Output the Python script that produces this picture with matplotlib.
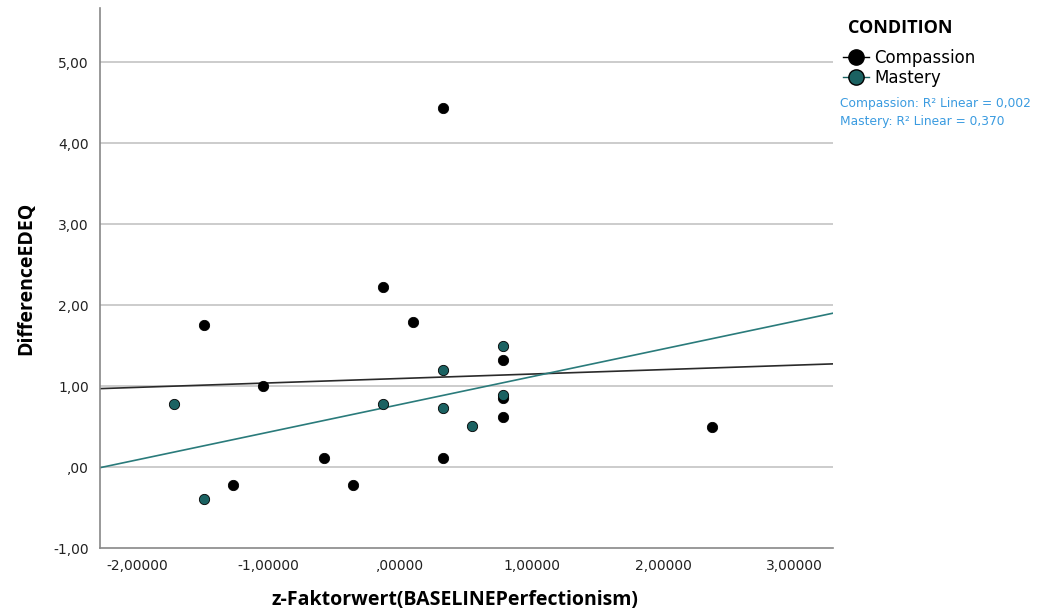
import numpy as np
import matplotlib.pyplot as plt
from matplotlib.lines import Line2D
from matplotlib.ticker import FuncFormatter

# donnees
comp_x = [-1.49, -1.27, -1.04, -0.58, -0.36, -0.13, 0.10, 0.33, 0.33, 0.78, 0.78, 0.78, 2.37]
comp_y = [1.75, -0.22, 1.00, 0.11, -0.22, 2.22, 1.79, 4.43, 0.11, 1.32, 0.85, 0.62, 0.49]
mast_x = [-1.72, -1.49, -0.13, 0.33, 0.33, 0.55, 0.78, 0.78]
mast_y = [0.78, -0.40, 0.78, 1.20, 0.73, 0.51, 1.50, 0.89]
groupes = ["Compassion", "Mastery"]
r2_textes = ["Compassion: R\u00b2 Linear = 0,002", "Mastery: R\u00b2 Linear = 0,370"]

noir = "#000000"
sarcelle = "#1b6262"
xmin, xmax = -2.28, 3.29

fig = plt.figure(figsize=(10.58, 6.14), dpi=100)
ax = fig.add_axes([100/1058, 1-548/614, 733/1058, 540/614])

for y in range(0, 6):
    ax.axhline(y, color="#cccccc", lw=1.4, zorder=0)

# droites de regression
xx = np.array([xmin, xmax])
for gx, gy, c in [(comp_x, comp_y, "#2a2a2a"), (mast_x, mast_y, "#2a7b7b")]:
    a, b = np.polyfit(gx, gy, 1)
    ax.plot(xx, a*xx + b, color=c, lw=1.2, zorder=2)

ax.scatter(comp_x, comp_y, s=55, color=noir, edgecolor="black", lw=0.6, zorder=3)
ax.scatter(mast_x, mast_y, s=55, color=sarcelle, edgecolor="black", lw=0.6, zorder=4)

ax.set_xlim(xmin, xmax)
ax.set_ylim(-1, 5.67)
ax.set_yticks(range(-1, 6))
ax.set_xticks(range(-2, 4))

def fmt(v, nd):
    s = ("%." + str(nd) + "f") % v
    s = s.replace(".", ",")
    if s.startswith("0,"):
        s = s[1:]
    return s

ax.yaxis.set_major_formatter(FuncFormatter(lambda v, p: fmt(v, 2)))
ax.xaxis.set_major_formatter(FuncFormatter(lambda v, p: fmt(v, 5)))
ax.tick_params(length=0, labelsize=10, colors="#222222", pad=8)

for s in ["top", "right"]:
    ax.spines[s].set_visible(False)
for s in ["left", "bottom"]:
    ax.spines[s].set_color("#888888")
    ax.spines[s].set_linewidth(1.2)

ax.set_xlabel("z-Faktorwert(BASELINEPerfectionism)", fontsize=14, fontweight="bold",
              family="Open Sans", va="center")
ax.xaxis.set_label_coords((455-100)/733, -(600-548)/540)
ax.set_ylabel("DifferenceEDEQ", fontsize=14, fontweight="bold", family="Open Sans",
              labelpad=12)

fig.text(848/1058, 1-28/614, "CONDITION", fontsize=13, fontweight="bold",
         family="Open Sans", va="center")

poignees = [Line2D([0], [0], color=noir, marker="o", markersize=11, lw=1),
            Line2D([0], [0], color=sarcelle, marker="o", markersize=11, lw=1,
                   markeredgecolor="black")]
leg = fig.legend(poignees, groupes, loc="upper left", bbox_to_anchor=(836/1058, 1-42/614),
                 frameon=False, fontsize=12, handlelength=1.6,
                 handletextpad=0.3, labelspacing=0.12, borderaxespad=0)

for i, t in enumerate(r2_textes):
    fig.text(840/1058, 1-(103 + 19*i)/614, t, color="#3a9be0", fontsize=8.8, va="center")

plt.savefig("out.png", dpi=100)
